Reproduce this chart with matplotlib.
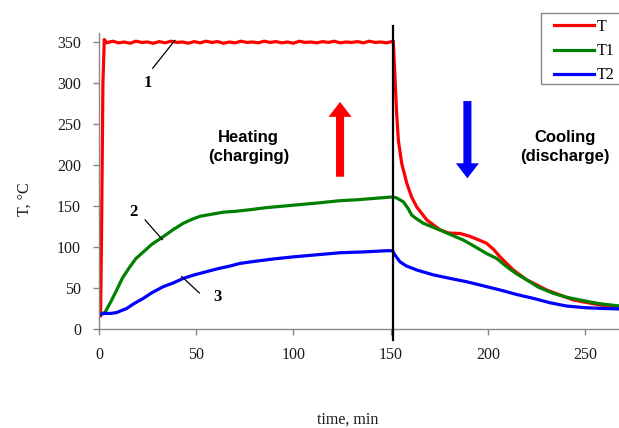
import matplotlib
matplotlib.use("Agg")
import matplotlib.pyplot as plt
from matplotlib.patches import Rectangle

# heater temperature T, minutes / deg C
t_red = [0.8, 1.3, 2.0, 2.7, 4, 7, 10, 13, 16, 19, 22, 25, 28, 31, 34, 37, 40,
         43, 46, 49, 52, 55, 58, 61, 64, 67, 70, 73, 76, 79, 82, 85, 88, 91, 94,
         97, 100, 103, 106, 109, 112, 115, 118, 121, 124, 127, 130, 133, 136,
         139, 142, 145, 148, 151.4,
         152.3, 153.1, 154, 155.7, 158.3, 160.8, 163.4, 168.6, 175.4, 180,
         185.7, 190.8, 195, 199.4, 203, 206.3, 213.1, 220, 230.3, 244, 257.7, 268]
T_red = [16, 120, 300, 353, 349, 351, 349, 350, 348.5, 351, 349.5, 350, 348.5, 350.5,
         349, 351, 349.5, 350, 348.5, 350.5, 349, 351, 349.5, 350.5, 348.5, 350,
         349, 351, 349.5, 350, 349, 351, 349.5, 350.5, 349, 350, 348.5, 351, 349.5,
         350, 349, 350.5, 349.5, 351, 349, 350, 349.5, 350.5, 349, 351, 349.5,
         350, 349, 351,
         304, 263, 230, 202, 178, 161, 149, 133, 121, 117,
         116.5, 113, 109, 104.5, 97, 88, 72, 60, 47.6, 35.4, 29.3, 27]

# T1
t_green = [1.5, 3, 6, 9.1, 12, 15.9, 19, 22.8, 27, 33, 38, 43.4, 48, 52, 58, 64,
           70, 77.7, 86, 93, 100, 107, 113.7, 124, 132, 140, 148, 151,
           153, 156.6, 159, 160.8, 163, 166.8, 175.4, 180, 187.4, 193, 199.4,
           204.6, 209.7, 215, 220, 226, 233.7, 240, 247.4, 257, 268]
T_green = [19, 20, 33, 47.6, 62, 76, 86, 94, 103, 112.6, 121, 129, 134, 137.5, 140,
           142.5, 143.5, 145.5, 148, 149.5, 151, 152.5, 154, 156.5, 157.5, 159,
           160.5, 161,
           160, 155, 147, 139, 135, 129, 120.7, 116, 108.5, 101, 92,
           86, 76, 67, 60, 51, 43.5, 39, 35.4, 31, 28]

# T2
t_blue = [0.7, 3, 6, 9, 11, 14.2, 18, 22.8, 27, 33, 38, 43.4, 49, 55.4, 61, 67.4,
          72.5, 80, 90, 100, 112, 124, 136, 148, 151,
          152, 154.8, 158, 163.4, 172, 180, 189, 198, 206.3, 215, 223.4, 232,
          240.6, 250, 260, 268]
T_blue = [18, 19, 19, 20, 22, 25, 31, 37.4, 44, 51.6, 56, 61.8, 66, 70, 73.5, 76.8,
          80, 82.5, 85.5, 88, 90.5, 93, 94, 95.5, 95.5,
          91, 82, 77, 72, 66, 62, 57.7, 52.5, 47.6, 42, 37.4, 32,
          28, 26, 25, 24.4]

switch_time = 151
x_ticks = [0, 50, 100, 150, 200, 250]
y_ticks = [0, 50, 100, 150, 200, 250, 300, 350]

serif = "Liberation Serif"
sans = "Liberation Sans"
W, H = 619, 428

fig = plt.figure(figsize=(W / 100, H / 100), dpi=100)
ax = fig.add_axes([0.16, 0.2313, 0.84, 0.6916])

ax.plot(t_red, T_red, color="#ff0000", lw=2.3, label="T", solid_joinstyle="round")
ax.plot(t_green, T_green, color="#008000", lw=2.3, label="T1", solid_joinstyle="round")
ax.plot(t_blue, T_blue, color="#0000ff", lw=2.3, label="T2", solid_joinstyle="round")

# end of charging
ax.plot([switch_time, switch_time], [-13, 369.5], color="black", lw=1.6, clip_on=False, zorder=5)

ax.set_xlim(0, 267.5)
ax.set_ylim(0, 361)
ax.set_xticks(x_ticks)
ax.set_yticks(y_ticks)

for side in ["top", "right"]:
    ax.spines[side].set_visible(False)
for side in ["left", "bottom"]:
    ax.spines[side].set_color("#888888")
    ax.spines[side].set_linewidth(1.0)
ax.tick_params(direction="out", length=4, width=1, color="#888888", pad=9,
               labelsize=11.5, labelcolor="#1a1a1a")
for lab in ax.get_xticklabels() + ax.get_yticklabels():
    lab.set_fontfamily(serif)

ax.set_xlabel("time, min", fontfamily=serif, fontsize=11.5, color="#1a1a1a")
ax.set_ylabel("T, \u00b0C", fontfamily=serif, fontsize=11.5, color="#1a1a1a")
ax.xaxis.set_label_coords(0.479, -0.28)
ax.yaxis.set_label_coords(-0.128, 0.44)

# curve numbers
num_font = dict(fontfamily=serif, fontsize=12, fontweight="bold", ha="center", va="center")
ax.text(25.1, 300.6, "1", **num_font)
ax.plot([27.6, 39], [318, 352], color="black", lw=0.9)
ax.text(17.7, 143, "2", **num_font)
ax.plot([23.7, 32.6], [133, 109], color="black", lw=0.9)
ax.text(60.9, 38.6, "3", **num_font)
ax.plot([51.6, 42.5], [44, 64], color="black", lw=0.9)

txt_font = dict(fontfamily=sans, fontsize=12, fontweight="bold", ha="center",
                va="center", linespacing=1.3)
ax.text(76.8, 222, "Heating\n(charging)", **txt_font)
ax.text(239.7, 222, "Cooling\n(discharge)", **txt_font)

arrow_style = "simple,head_length=1.08,head_width=1.66,tail_width=0.58"
ax.annotate("", xy=(124, 277), xytext=(124, 185.7),
            arrowprops=dict(arrowstyle=arrow_style, mutation_scale=10, color="#ff0000",
                            lw=0, shrinkA=0, shrinkB=0))
ax.annotate("", xy=(189.5, 183.8), xytext=(189.5, 278),
            arrowprops=dict(arrowstyle=arrow_style, mutation_scale=10, color="#0000ff",
                            lw=0, shrinkA=0, shrinkB=0))

# legend box runs off the right edge
fig.patches.append(Rectangle((541 / W, 1 - 84 / H), 90 / W, 71 / H,
                             transform=fig.transFigure, fill=False,
                             edgecolor="#888888", lw=1.0))
ax.legend(loc="upper left", bbox_to_anchor=(549 / W, 1 - 14 / H),
          bbox_transform=fig.transFigure, borderaxespad=0, frameon=False,
          prop=dict(family=serif, size=11.5),
          handlelength=2.5, handletextpad=0.2, labelspacing=0.52, borderpad=0.3)

fig.savefig("out.png", dpi=100)
